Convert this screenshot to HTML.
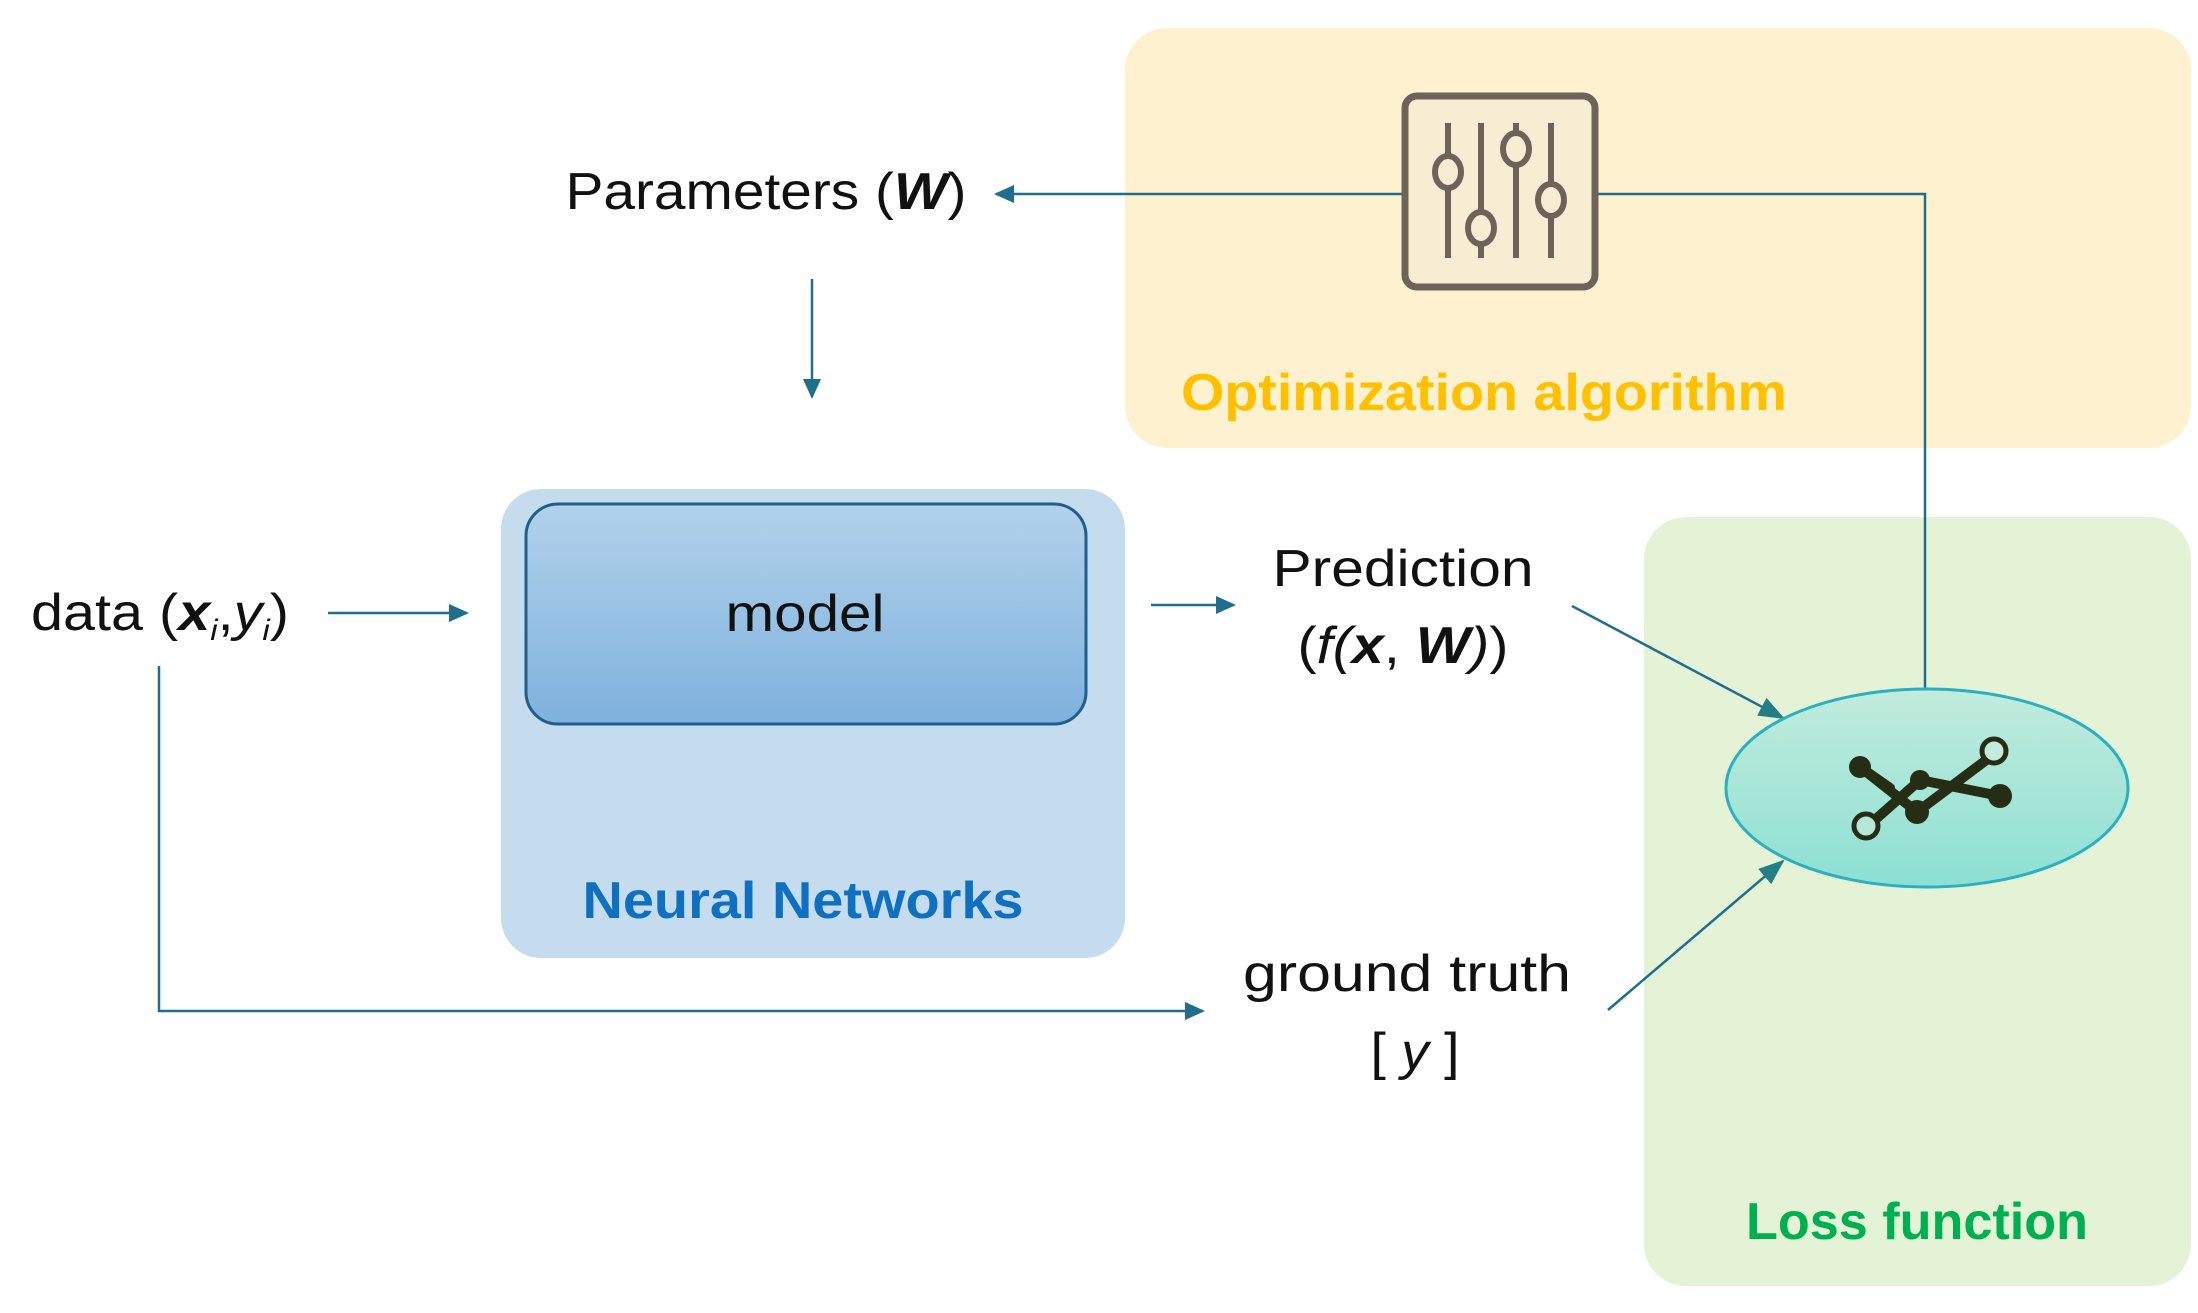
<!DOCTYPE html>
<html><head><meta charset="utf-8"><style>
html,body{margin:0;padding:0;background:#fff;}
svg{display:block;}
text{font-family:"Liberation Sans",sans-serif;}
</style></head><body>
<svg width="2198" height="1313" viewBox="0 0 2198 1313" xmlns="http://www.w3.org/2000/svg">
<defs>
<marker id="ah2" markerWidth="26" markerHeight="20" refX="24" refY="10" orient="auto" markerUnits="userSpaceOnUse">
<path d="M0,0 L26,10 L0,20 z" fill="#217F85"/></marker>
<marker id="ah3" markerWidth="20" markerHeight="18" refX="18" refY="9" orient="auto" markerUnits="userSpaceOnUse">
<path d="M0,0 L20,9 L0,18 z" fill="#1F6E8C"/></marker>
<linearGradient id="mg" x1="0" y1="0" x2="0" y2="1"><stop offset="0" stop-color="#B2D2EB"/><stop offset="1" stop-color="#7EB1DD"/></linearGradient>
<linearGradient id="eg" x1="0" y1="0" x2="0" y2="1"><stop offset="0" stop-color="#C2ECDC"/><stop offset="1" stop-color="#8CE0D3"/></linearGradient>
</defs>

<rect x="1125" y="28" width="1066" height="420" rx="42" fill="#FEF1CF"/>
<rect x="1644" y="517" width="547" height="769" rx="42" fill="#E4F2D6"/>
<rect x="501" y="489" width="624" height="469" rx="40" fill="#C5DCEE"/>
<rect x="526" y="504" width="560" height="220" rx="32" fill="url(#mg)" stroke="#1F5F8B" stroke-width="3"/>

<line x1="1403" y1="194" x2="996" y2="194" stroke="#1F6E8C" stroke-width="2.5" marker-end="url(#ah3)"/>
<polyline points="1597,194 1925,194 1925,690" fill="none" stroke="#1F6E8C" stroke-width="2.5"/>
<line x1="812" y1="279" x2="812" y2="397" stroke="#1F6E8C" stroke-width="2.5" marker-end="url(#ah3)"/>
<line x1="328" y1="613" x2="467" y2="613" stroke="#1F6E8C" stroke-width="2.5" marker-end="url(#ah3)"/>
<polyline points="159,666 159,1011 1203,1011" fill="none" stroke="#1F6E8C" stroke-width="2.5" marker-end="url(#ah3)"/>
<line x1="1151" y1="605" x2="1234" y2="605" stroke="#1F6E8C" stroke-width="2.5" marker-end="url(#ah3)"/>
<line x1="1572" y1="606" x2="1783" y2="718" stroke="#1F6E8C" stroke-width="2.5" marker-end="url(#ah2)"/>
<line x1="1608" y1="1010" x2="1783" y2="861" stroke="#1F6E8C" stroke-width="2.5" marker-end="url(#ah2)"/>

<rect x="1405" y="96" width="190" height="191" rx="12" fill="#F7EDD2" stroke="#6E6358" stroke-width="7"/>
<g stroke="#6E6358" stroke-width="6" fill="#F7EDD2">
<line x1="1448" y1="123" x2="1448" y2="258"/>
<line x1="1481" y1="123" x2="1481" y2="258"/>
<line x1="1516" y1="123" x2="1516" y2="258"/>
<line x1="1551" y1="123" x2="1551" y2="258"/>
<ellipse cx="1448" cy="172" rx="13" ry="16"/>
<ellipse cx="1481" cy="228" rx="13" ry="16"/>
<ellipse cx="1516" cy="149" rx="13" ry="16"/>
<ellipse cx="1551" cy="200" rx="13" ry="16"/>
</g>

<ellipse cx="1927" cy="788" rx="201" ry="99" fill="url(#eg)" stroke="#2BB0C0" stroke-width="3"/>
<g stroke="#252D15" stroke-width="10" fill="none" stroke-linecap="round" stroke-linejoin="round">
<polyline points="1860,767 1917,812 1993,755"/>
<line x1="1860" y1="767" x2="1890" y2="788"/>
<polyline points="1868,826 1920,780 2000,796"/>
</g>
<g fill="#252D15">
<circle cx="1860" cy="767" r="11"/><circle cx="1920" cy="780" r="10"/><circle cx="1917" cy="812" r="12"/><circle cx="2000" cy="796" r="12"/>
</g>
<circle cx="1866" cy="826" r="12" fill="#B5E8D8" stroke="#252D15" stroke-width="5"/>
<circle cx="1994" cy="751" r="12" fill="#C2ECDC" stroke="#252D15" stroke-width="5"/>

<text x="1484" y="410" font-size="52" font-weight="bold" fill="#FFC000" text-anchor="middle" textLength="606" lengthAdjust="spacingAndGlyphs">Optimization algorithm</text>
<text x="803" y="918" font-size="52" font-weight="bold" fill="#1070C0" text-anchor="middle" textLength="441" lengthAdjust="spacingAndGlyphs">Neural Networks</text>
<text x="1917" y="1239" font-size="52" font-weight="bold" fill="#00B050" text-anchor="middle" textLength="342" lengthAdjust="spacingAndGlyphs">Loss function</text>
<text x="805" y="631" font-size="52" fill="#111" text-anchor="middle" textLength="159" lengthAdjust="spacingAndGlyphs">model</text>
<text x="766" y="209" font-size="52" fill="#111" text-anchor="middle" textLength="401" lengthAdjust="spacingAndGlyphs">Parameters (<tspan font-weight="bold" font-style="italic">W</tspan>)</text>
<text x="31" y="630" font-size="52" fill="#111" textLength="258" lengthAdjust="spacingAndGlyphs">data (<tspan font-weight="bold" font-style="italic">x</tspan><tspan font-size="30" font-style="italic" dy="10">i</tspan><tspan dy="-10">,</tspan><tspan font-style="italic">y</tspan><tspan font-size="30" font-style="italic" dy="10">i</tspan><tspan dy="-10">)</tspan></text>
<text x="1403" y="586" font-size="52" fill="#111" text-anchor="middle" textLength="261" lengthAdjust="spacingAndGlyphs">Prediction</text>
<text x="1403" y="663" font-size="52" fill="#111" text-anchor="middle" textLength="211" lengthAdjust="spacingAndGlyphs">(<tspan font-style="italic">f(</tspan><tspan font-weight="bold" font-style="italic">x</tspan>, <tspan font-weight="bold" font-style="italic">W</tspan><tspan font-style="italic">)</tspan>)</text>
<text x="1407" y="991" font-size="52" fill="#111" text-anchor="middle" textLength="328" lengthAdjust="spacingAndGlyphs">ground truth</text>
<text x="1415" y="1069" font-size="52" fill="#111" text-anchor="middle" textLength="89" lengthAdjust="spacingAndGlyphs">[ <tspan font-style="italic">y</tspan> ]</text>
</svg>
</body></html>
